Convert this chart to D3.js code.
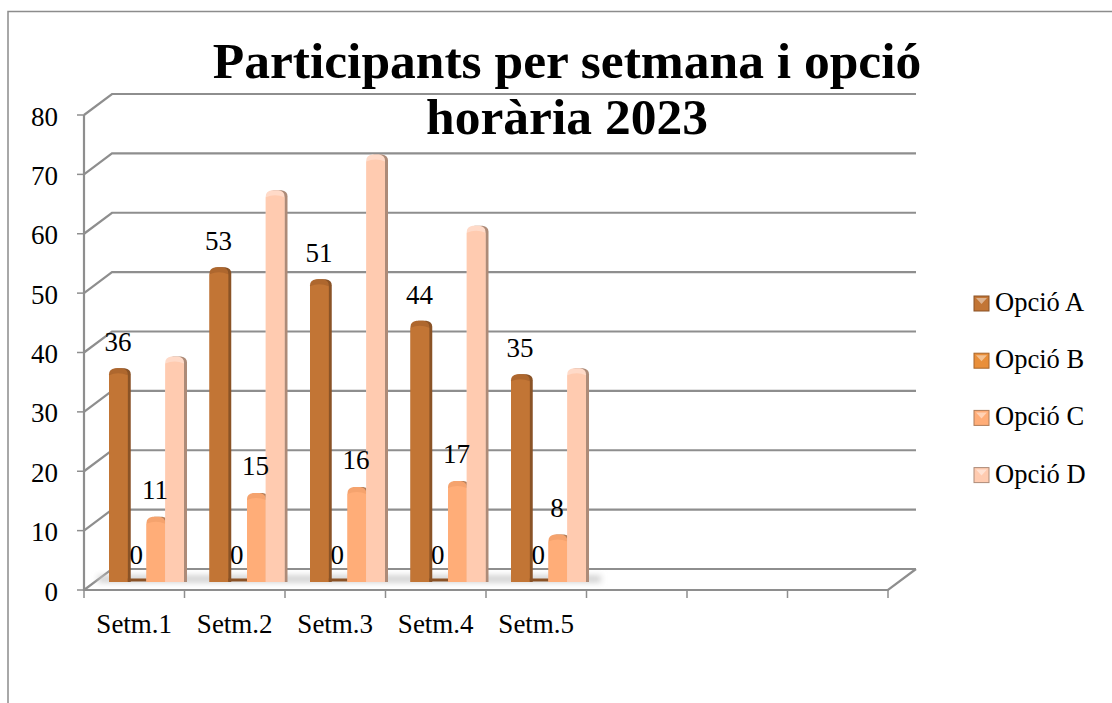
<!DOCTYPE html>
<html>
<head>
<title>Participants per setmana i opció horària 2023</title>
<style>
  html, body { margin: 0; padding: 0; background: #fff; }
  svg { display: block; }
  text { font-family: "Liberation Serif", serif; fill: #000; }
  .tick-label { font-size: 27px; }
  .cat-label { font-size: 27px; }
  .value-label { font-size: 27px; text-anchor: middle; }
  .legend-label { font-size: 26.5px; }
  .title { font-size: 51.5px; font-weight: bold; text-anchor: middle; }
</style>
</head>
<body>
<svg id="chart"></svg>
<script src="https://cdnjs.cloudflare.com/ajax/libs/d3/7.8.5/d3.min.js"></script>
<script>
var weeks = ["Setm.1", "Setm.2", "Setm.3", "Setm.4", "Setm.5", "", " ", "  "];
var options = ["Opció A", "Opció B", "Opció C", "Opció D"];
var opcioA = [36, 53, 51, 44, 35];
var opcioB = [0, 0, 0, 0, 0];
var opcioC = [11, 15, 16, 17, 8];
var opcioD = [38, 66, 72, 60, 36];
var series = [opcioA, opcioB, opcioC, opcioD];
var yTicks = [0, 10, 20, 30, 40, 50, 60, 70, 80];
var titleLines = ["Participants per setmana i opció", "horària 2023"];

// front face of the box and the depth shift to the back wall
var width = 1112, height = 703;
var depthX = 28, depthY = -21;
var y = d3.scaleLinear().domain([0, 80]).range([590, 115]);
var x = d3.scaleBand().domain(weeks).range([84, 888]);
var xInner = d3.scaleBand().domain(d3.range(4)).range([0, 75]);
var barOffset = 25, barBaseShift = -8;

var colors = ["#c27535", "#e98f3a", "#ffad78", "#ffcbb0"];
var capColors = ["#ae672e", "#d07f33", "#f5a36e", "#ffdac8"];
var sideColors = ["#8a5226", "#a8652a", "#b07c58", "#ad8b78"];
var gridColor = "#8e8e8e";

var svg = d3.select("#chart").attr("width", width).attr("height", height);
var defs = svg.append("defs");

defs.append("filter").attr("id", "soft")
  .attr("x", "-5%").attr("width", "110%").attr("y", "-100%").attr("height", "300%")
  .append("feGaussianBlur").attr("stdDeviation", 3);
defs.append("filter").attr("id", "edge")
  .append("feGaussianBlur").attr("stdDeviation", 0.5);

// outer frame
svg.append("path")
  .attr("d", "M8,703V11.5H1112")
  .attr("fill", "none").attr("stroke", "#8c8c8c").attr("stroke-width", 1.5);

// gridlines on the back wall and the wall side
var grid = svg.append("g").attr("stroke", gridColor).attr("stroke-width", 2.2).attr("fill", "none");
grid.selectAll("path.wall").data(yTicks).enter().append("path")
  .attr("class", "wall")
  .attr("d", function(d) {
    return "M" + 84 + "," + y(d) + "L" + (84 + depthX) + "," + (y(d) + depthY) + "H" + (888 + depthX);
  });
grid.append("path").attr("d", "M84," + y(80) + "V" + y(0) + "H888L" + (888 + depthX) + "," + (y(0) + depthY));

// ticks
grid.selectAll("path.ytick").data(yTicks).enter().append("path")
  .attr("class", "ytick").attr("stroke-width", 1.5)
  .attr("d", function(d) { return "M77," + y(d) + "H84"; });
grid.selectAll("path.xtick").data(d3.range(9)).enter().append("path")
  .attr("class", "xtick").attr("stroke-width", 1.5)
  .attr("d", function(d) {
    var px = 84 + d * x.step();
    return "M" + px + "," + y(0) + "V" + (y(0) + 8);
  });

// shadow on the floor under the bars
svg.append("rect")
  .attr("x", 98).attr("y", y(0) + barBaseShift - 6)
  .attr("width", 503).attr("height", 6)
  .attr("fill", "#c8c8c8").attr("filter", "url(#soft)");

svg.selectAll("text.y").data(yTicks).enter().append("text")
  .attr("class", "tick-label").attr("text-anchor", "end")
  .attr("x", 58).attr("y", function(d) { return y(d) + 10.5; })
  .text(function(d) { return d; });

svg.selectAll("text.cat").data(weeks.slice(0, 5)).enter().append("text")
  .attr("class", "cat-label").attr("text-anchor", "middle")
  .attr("x", function(d) { return x(d) + x.bandwidth() / 2; })
  .attr("y", 633)
  .text(function(d) { return d; });

// rounded top outline shared by the bar, its cap and its side
function dome(left, right, top, bottom) {
  return "M" + left + "," + bottom + "V" + (top + 6) + "Q" + left + "," + (top + 1) + " " + (left + 6) + "," + top +
    "H" + (right - 6) + "Q" + right + "," + (top + 1) + " " + right + "," + (top + 6) + "V" + bottom + "Z";
}

// bars
var base = y(0) + barBaseShift;
series.forEach(function(values, s) {
  var g = svg.append("g");
  values.forEach(function(v, i) {
    var left = x(weeks[i]) + barOffset + xInner(s);
    var w = xInner.bandwidth();
    var top = y(v) + barBaseShift;
    if (v === 0) {
      g.append("rect").attr("x", left).attr("y", base - 3.5).attr("width", w).attr("height", 3)
        .attr("fill", "#8a5226");
      return;
    }
    g.append("path").attr("d", dome(left + 2, left + w + 3, top, base))
      .attr("fill", sideColors[s]).attr("filter", "url(#edge)");
    g.append("path").attr("d", dome(left, left + w, top, base))
      .attr("fill", capColors[s]);
    g.append("path")
      .attr("d", "M" + left + "," + base + "V" + (top + 7) + "Q" + (left + w / 2) + "," + (top + 3) + " " + (left + w) + "," + (top + 7) + "V" + base + "Z")
      .attr("fill", colors[s]);
  });
});

// data labels, only the first three series carry them
[0, 1, 2].forEach(function(s) {
  series[s].forEach(function(v, i) {
    var left = x(weeks[i]) + barOffset + xInner(s);
    svg.append("text").attr("class", "value-label")
      .attr("x", left + (s === 0 ? 9 : 8.5))
      .attr("y", y(v) + barBaseShift - (s === 0 ? 17 : 18))
      .text(v);
  });
});

// legend
var legend = svg.selectAll("g.legend").data(options).enter().append("g")
  .attr("class", "legend")
  .attr("transform", function(d, i) { return "translate(974," + (296 + i * 57.2) + ")"; });
legend.append("rect").attr("width", 15).attr("height", 15)
  .attr("fill", function(d, i) { return colors[i]; })
  .attr("stroke", function(d, i) { return sideColors[i]; }).attr("stroke-width", 1);
legend.append("path").attr("d", "M2,2H13L7.5,8Z").attr("fill", "#fff").attr("opacity", 0.45);
legend.append("text").attr("class", "legend-label").attr("x", 21).attr("y", 15)
  .text(function(d) { return d; });

// title goes on top of the grid
svg.selectAll("text.title").data(titleLines).enter().append("text")
  .attr("class", "title").attr("x", 567)
  .attr("y", function(d, i) { return 77.5 + i * 56; })
  .text(function(d) { return d; });
</script>
</body>
</html>
